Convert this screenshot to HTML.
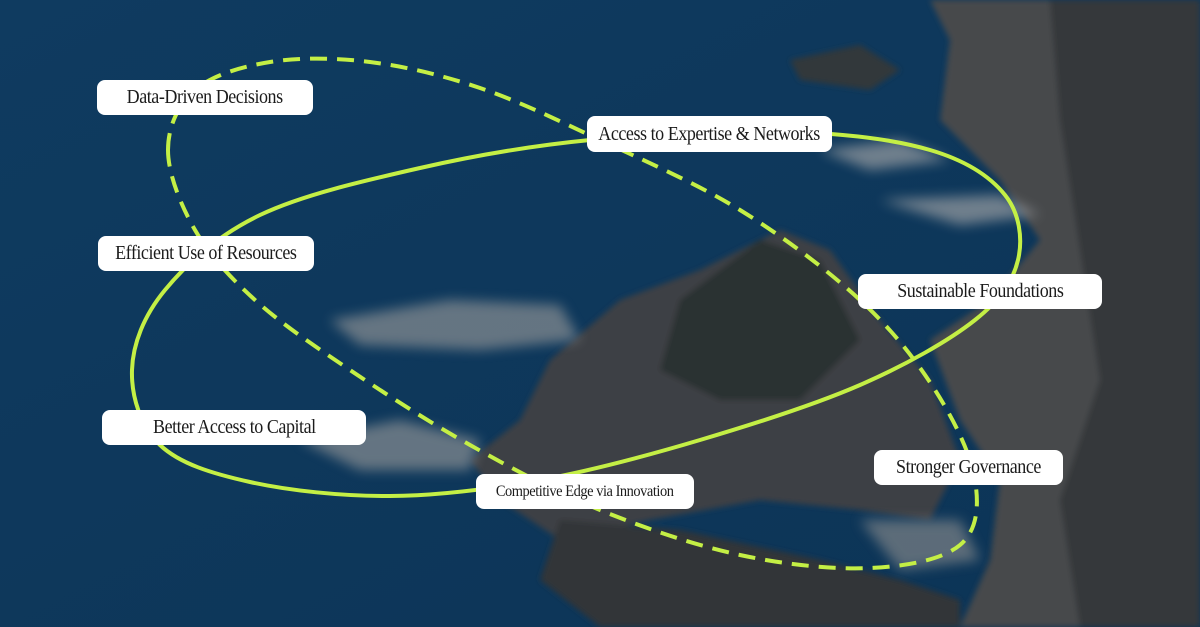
<!DOCTYPE html>
<html><head><meta charset="utf-8"><style>
html,body{margin:0;padding:0}
body{width:1200px;height:627px;overflow:hidden;position:relative;background:#0e3a5e;font-family:"Liberation Serif",serif}
svg{position:absolute;left:0;top:0}
.l{position:absolute;background:#fff;border-radius:8px;color:#1b1b1b;font-size:20px;display:flex;align-items:center;justify-content:center;white-space:nowrap;letter-spacing:-0.5px}
.l span{display:inline-block;transform:scaleX(0.9)}
</style></head><body>
<svg width="1200" height="627" viewBox="0 0 1200 627">
<defs>
<linearGradient id="bg" x1="0" y1="0" x2="1" y2="1"><stop offset="0" stop-color="#0f3b60"/><stop offset="1" stop-color="#0c3456"/></linearGradient>
<filter id="b"><feGaussianBlur stdDeviation="6"/></filter>
<filter id="b2"><feGaussianBlur stdDeviation="3"/></filter>
</defs>
<rect width="1200" height="627" fill="url(#bg)"/>
<g filter="url(#b2)">
<path d="M930 0 L1200 0 L1200 627 L960 627 L990 560 L1000 480 L960 420 L930 340 L990 300 L1040 240 L1000 180 L940 120 L950 40 Z" fill="#46494c"/>
<path d="M1050 0 L1200 0 L1200 627 L1080 627 L1060 500 L1100 380 L1080 250 L1060 120Z" fill="#34373a"/>
<path d="M790 60 L860 45 L900 70 L870 90 L800 80Z" fill="#33373a"/>
<path d="M550 360 L620 300 L700 270 L780 230 L830 250 L880 320 L930 380 L960 460 L930 520 L860 510 L760 500 L650 520 L560 540 L500 500 L470 460 L520 420Z" fill="#3d4144"/>
<path d="M680 300 L760 240 L820 260 L860 340 L800 400 L720 400 L660 370Z" fill="#2c3033"/>
<path d="M560 520 L680 530 L820 560 L900 580 L960 600 L960 627 L600 627 L540 580Z" fill="#303437"/>
</g>
<g filter="url(#b)" opacity="0.7">
<path d="M330 320 L450 300 L560 305 L580 340 L480 350 L360 345Z" fill="#8a8f93"/>
<path d="M300 440 L400 420 L480 440 L470 470 L360 470Z" fill="#8a8f93"/>
<path d="M880 200 L1000 195 L1040 215 L960 225Z" fill="#9a9ea2"/>
<path d="M820 150 L900 140 L950 160 L870 170Z" fill="#9a9ea2"/>
<path d="M860 520 L960 520 L980 560 L900 570Z" fill="#7e8387"/>
</g>
<path id="solid" fill="none" stroke="#c4ef45" stroke-width="4"/>
<path id="dash" fill="none" stroke="#c4ef45" stroke-width="4" stroke-dasharray="17 10"/>
</svg>
<div class="l" style="left:97px;top:80px;width:216px;height:35px"><span>Data-Driven Decisions</span></div>
<div class="l" style="left:587px;top:116px;width:245px;height:36px"><span>Access to Expertise &amp; Networks</span></div>
<div class="l" style="left:98px;top:236px;width:216px;height:35px"><span>Efficient Use of Resources</span></div>
<div class="l" style="left:858px;top:274px;width:244px;height:35px"><span>Sustainable Foundations</span></div>
<div class="l" style="left:102px;top:410px;width:264px;height:35px"><span>Better Access to Capital</span></div>
<div class="l" style="left:874px;top:450px;width:189px;height:35px"><span>Stronger Governance</span></div>
<div class="l" style="left:476px;top:474px;width:218px;height:35px;font-size:16px"><span>Competitive Edge via Innovation</span></div>
<script>
function cr(p){var n=p.length,d="M"+p[0][0]+" "+p[0][1];
for(var i=0;i<n;i++){var p0=p[(i-1+n)%n],p1=p[i],p2=p[(i+1)%n],p3=p[(i+2)%n];
d+=" C"+(p1[0]+(p2[0]-p0[0])/6)+" "+(p1[1]+(p2[1]-p0[1])/6)+" "+(p2[0]-(p3[0]-p1[0])/6)+" "+(p2[1]-(p3[1]-p1[1])/6)+" "+p2[0]+" "+p2[1];}
return d+"Z";}
document.getElementById("solid").setAttribute("d",cr([[132,370],[165,290],[260,215],[420,168],[590,140],[790,132],[930,150],[1005,195],[1018,260],[975,320],[860,385],[700,440],[540,480],[390,496],[250,482],[160,445]]));
document.getElementById("dash").setAttribute("d",cr([[168,150],[195,90],[270,62],[370,62],[480,88],[600,140],[740,210],[860,300],[935,390],[975,480],[960,545],[870,568],[740,555],[600,510],[470,445],[350,370],[255,300],[195,230]]));
</script>
</body></html>
